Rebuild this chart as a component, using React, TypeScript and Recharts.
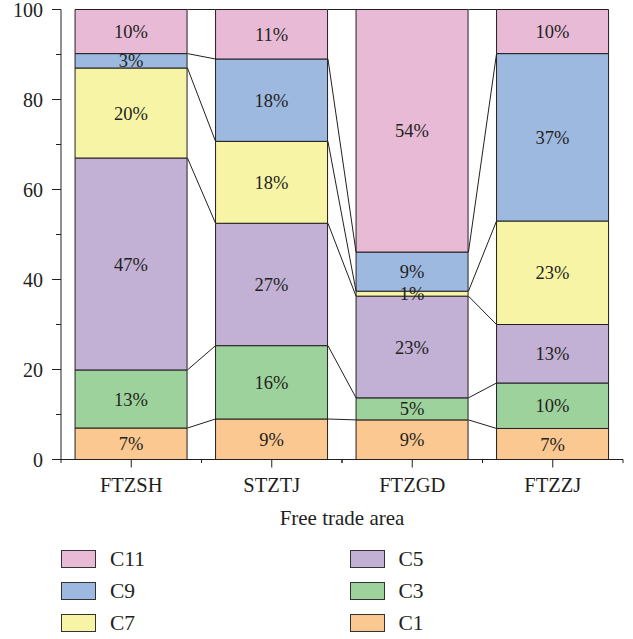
import React from 'react';
import { BarChart, Bar, XAxis, YAxis, LabelList, ReferenceLine, Legend } from 'recharts';

const categories = ['FTZSH', 'STZTJ', 'FTZGD', 'FTZZJ'];
const c1 = [7.0, 9.0, 8.8, 6.9];
const c3 = [12.9, 16.3, 4.9, 10.1];
const c5 = [47.1, 27.2, 22.6, 13.0];
const c7 = [20.0, 18.2, 1.1, 23.0];
const c9 = [3.2, 18.3, 8.7, 37.2];
const c11 = [9.8, 11.0, 53.9, 9.8];

const seriesKeys = ['C1', 'C3', 'C5', 'C7', 'C9', 'C11'];
const seriesValues = [c1, c3, c5, c7, c9, c11];
const seriesColors = ['#FCC892', '#9DD29C', '#C2B0D5', '#F8F4A6', '#9EB9E0', '#E8BAD6'];
const legendOrder = ['C11', 'C5', 'C9', 'C3', 'C7', 'C1'];
const yTicks = [0, 10, 20, 30, 40, 50, 60, 70, 80, 90, 100];

const INK = '#231f20';
const FONT = '"Liberation Serif", "DejaVu Serif", serif';

const data = categories.map((name, i) => {
  const row: Record<string, number | string> = { name, pos: i + 0.5 };
  seriesKeys.forEach((k, s) => {
    row[k] = seriesValues[s][i];
  });
  return row;
});

// cumulative tops per category
const cumTops = categories.map((_, i) => {
  let acc = 0;
  return seriesValues.map((vals) => {
    acc += vals[i];
    return acc;
  });
});

const connectors: { x1: number; y1: number; x2: number; y2: number }[] = [];
for (let i = 0; i < categories.length - 1; i++) {
  for (let s = 0; s < seriesKeys.length; s++) {
    connectors.push({ x1: i + 0.9, y1: cumTops[i][s], x2: i + 1.1, y2: cumTops[i + 1][s] });
  }
}

const YTick = (props: any) => {
  const { x, y, payload } = props;
  const major = payload.value % 20 === 0;
  return (
    <g>
      <line x1={x - (major ? 9 : 5)} x2={x} y1={y} y2={y} stroke={INK} strokeWidth={1} />
      {major && (
        <text x={x - 18} y={y} dy="0.35em" textAnchor="end" fill={INK} fontSize={20} fontFamily={FONT}>
          {payload.value}
        </text>
      )}
    </g>
  );
};

const XTick = (props: any) => {
  const { x, y, payload } = props;
  const half = payload.offset ?? 70.25;
  return (
    <g>
      <line x1={x} x2={x} y1={y} y2={y + 8} stroke={INK} strokeWidth={1} />
      <line x1={x - half} x2={x - half} y1={y} y2={y + 3.5} stroke={INK} strokeWidth={1} />
      <line x1={x + half} x2={x + half} y1={y} y2={y + 3.5} stroke={INK} strokeWidth={1} />
      <text x={x} y={y + 32} textAnchor="middle" fill={INK} fontSize={20.5} fontFamily={FONT}>
        {payload.value}
      </text>
    </g>
  );
};

const LegendContent = () => (
  <div style={{ position: 'relative', width: 633, height: 100, fontFamily: FONT, fontSize: 21.5, color: INK }}>
    {legendOrder.map((key, j) => {
      const col = j % 2;
      const row = Math.floor(j / 2);
      const color = seriesColors[seriesKeys.indexOf(key)];
      const top = 10 + row * 32;
      const left = col === 0 ? 61 : 349.5;
      return (
        <div key={key} style={{ position: 'absolute', left, top, height: 18, display: 'flex', alignItems: 'center' }}>
          <div style={{ width: 35, height: 18, boxSizing: 'border-box', background: color, border: '1.2px solid #333' }} />
          <span style={{ marginLeft: 14, lineHeight: '18px', position: 'relative', top: -0.5 }}>{key}</span>
        </div>
      );
    })}
  </div>
);

export default function App() {
  return (
    <div style={{ position: 'absolute', left: 0, top: 0, width: 633, height: 639, background: '#fff' }}>
      <BarChart
        width={633}
        height={639}
        data={data}
        margin={{ top: 9.5, right: 10, left: 0, bottom: 109.5 }}
        barCategoryGap="10%"
        style={{ fontFamily: FONT }}
      >
        <XAxis
          xAxisId="cat"
          dataKey="name"
          type="category"
          height={70}
          tickSize={0}
          tickMargin={0}
          tickLine={false}
          axisLine={{ stroke: INK, strokeWidth: 1 }}
          tick={<XTick />}
          interval={0}
          label={{ value: 'Free trade area', position: 'insideBottom', offset: 5, fill: INK, fontSize: 21, fontFamily: FONT }}
        />
        <XAxis xAxisId="num" dataKey="pos" type="number" domain={[0, 4]} hide allowDataOverflow />
        <YAxis
          type="number"
          domain={[0, 100]}
          ticks={yTicks}
          interval={0}
          width={61}
          tickSize={0}
          tickMargin={0}
          tickLine={false}
          axisLine={{ stroke: INK, strokeWidth: 1 }}
          tick={<YTick />}
        />
        {seriesKeys.map((key, s) => (
          <Bar
            key={key}
            xAxisId="cat"
            dataKey={key}
            stackId="a"
            fill={seriesColors[s]}
            stroke={INK}
            strokeWidth={1}
            isAnimationActive={false}
          >
            <LabelList
              dataKey={key}
              position="center"
              formatter={(v: any) => `${Math.round(Number(v))}%`}
              fill={INK}
              fontSize={18.5}
              fontFamily={FONT}
            />
          </Bar>
        ))}
        {connectors.map((c, idx) => (
          <ReferenceLine
            key={idx}
            xAxisId="num"
            segment={[{ x: c.x1, y: c.y1 }, { x: c.x2, y: c.y2 }]}
            stroke={INK}
            strokeWidth={1}
            ifOverflow="visible"
          />
        ))}
        <Legend
          layout="horizontal"
          verticalAlign="middle"
          align="center"
          wrapperStyle={{ left: 0, top: 540, width: 633, height: 100 }}
          content={() => <LegendContent />}
        />
      </BarChart>
    </div>
  );
}
